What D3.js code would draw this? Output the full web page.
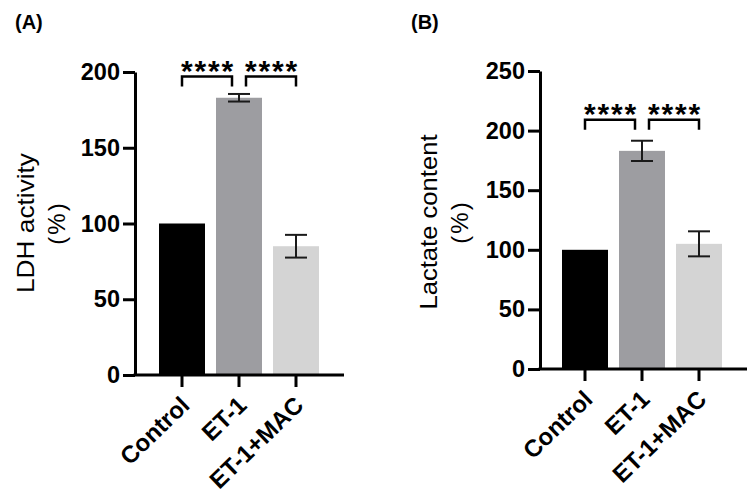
<!DOCTYPE html>
<html><head><meta charset="utf-8">
<script src="https://cdn.jsdelivr.net/npm/d3@7"></script>
<style>
html,body{margin:0;padding:0;background:#fff;}
svg{display:block;}
text{font-family:"Liberation Sans",Arial,sans-serif;}
</style></head>
<body>
<svg id="chart" width="756" height="499"></svg>
<script>
// ---- data ----
const categories = ["Control", "ET-1", "ET-1+MAC"];
const ldhMean = [100, 183, 85];
const ldhErr = [0, 2.5, 7.5];
const lactMean = [100, 183, 105];
const lactErr = [0, 8.5, 10.5];
const ldhTicks = [0, 50, 100, 150, 200];
const lactTicks = [0, 50, 100, 150, 200, 250];
const barColors = ["#000000", "#9d9da1", "#d4d4d4"];
const sigLabel = "****";
const ldhBracketValue = 197;
const lactBracketValue = 209;

const svg = d3.select("#chart");

function panel(cfg) {
  const g = svg.append("g");
  const y = d3.scaleLinear().domain([0, cfg.max]).range([cfg.y0, cfg.yTop]);
  const x = d3.scaleBand().domain(categories)
    .range([cfg.bandStart, cfg.bandStart + 171])
    .paddingInner(11 / 57).paddingOuter(11 / 114);

  // bars
  g.selectAll("rect.bar").data(cfg.mean).join("rect")
    .attr("x", (d, i) => x(categories[i]))
    .attr("width", x.bandwidth())
    .attr("y", d => y(d))
    .attr("height", d => y(0) - y(d))
    .attr("fill", (d, i) => barColors[i]);

  // error bars
  const eg = g.append("g").attr("stroke", "#1a1a1a").attr("stroke-width", 2);
  cfg.mean.forEach((m, i) => {
    const e = cfg.err[i];
    if (!e) return;
    const cx = x(categories[i]) + x.bandwidth() / 2;
    eg.append("line").attr("x1", cx).attr("x2", cx).attr("y1", y(m + e)).attr("y2", y(m - e));
    eg.append("line").attr("x1", cx - 11).attr("x2", cx + 11).attr("y1", y(m + e)).attr("y2", y(m + e));
    eg.append("line").attr("x1", cx - 11).attr("x2", cx + 11).attr("y1", y(m - e)).attr("y2", y(m - e));
  });

  // y axis
  const ya = g.append("g").attr("transform", `translate(${cfg.x0},0)`)
    .call(d3.axisLeft(y).tickValues(cfg.ticks).tickSize(12).tickSizeOuter(0));
  ya.select(".domain").attr("stroke-width", 3);
  ya.selectAll(".tick line").attr("stroke-width", 3);
  ya.selectAll(".tick text").attr("font-size", 23.5).attr("font-weight", "bold")
    .attr("font-family", "Liberation Sans, Arial, sans-serif").attr("x", -15).attr("fill", "#000");

  // x axis
  const xa = g.append("g").attr("transform", `translate(0,${cfg.y0})`)
    .call(d3.axisBottom(x).tickSize(12).tickSizeOuter(0));
  xa.select(".domain").remove();
  xa.append("line").attr("x1", cfg.x0 - 1.5).attr("x2", cfg.x1).attr("y1", 0).attr("y2", 0)
    .attr("stroke", "#000").attr("stroke-width", 3);
  xa.selectAll(".tick line").attr("stroke-width", 3);
  xa.selectAll(".tick text")
    .attr("font-size", 24).attr("font-weight", "bold")
    .attr("font-family", "Liberation Sans, Arial, sans-serif").attr("fill", "#000")
    .attr("text-anchor", "end").attr("dy", null).attr("y", null)
    .attr("transform", "translate(9,32) rotate(-44)");

  // significance brackets
  const bx = i => x(categories[i]) + x.bandwidth() / 2;
  const by = y(cfg.bracket);
  const pairs = [[bx(0), bx(1) - 7], [bx(1) + 7, bx(2)]];
  pairs.forEach(p => {
    g.append("path")
      .attr("d", `M${p[0]},${by + 10}V${by}H${p[1]}V${by + 10}`)
      .attr("fill", "none").attr("stroke", "#000").attr("stroke-width", 2.5);
    g.append("text").attr("x", (p[0] + p[1]) / 2 + 1).attr("y", by + 4)
      .attr("text-anchor", "middle").attr("font-size", 30).attr("font-weight", "bold")
      .attr("letter-spacing", 1.8).text(sigLabel);
  });

  // y label
  const lab = g.append("g").attr("transform", `translate(${cfg.labX},${cfg.labY}) rotate(-90)`);
  lab.append("text").attr("text-anchor", "middle").attr("y", 0).attr("font-size", 24)
    .attr("textLength", cfg.labLen).attr("lengthAdjust", "spacingAndGlyphs").text(cfg.label);
  lab.append("text").attr("text-anchor", "middle").attr("y", 31).attr("font-size", 24)
    .attr("letter-spacing", 2).text("(%)");

  // panel title
  g.append("text").attr("x", cfg.titleX).attr("y", 29).attr("font-size", 20)
    .attr("font-weight", "bold").text(cfg.title);
}

panel({ mean: ldhMean, err: ldhErr, ticks: ldhTicks, max: 200, x0: 135, x1: 344, y0: 375, yTop: 72,
  bandStart: 153.5, bracket: ldhBracketValue, label: "LDH activity", labX: 34, labY: 223, labLen: 140,
  title: "(A)", titleX: 15 });
panel({ mean: lactMean, err: lactErr, ticks: lactTicks, max: 250, x0: 540, x1: 747, y0: 369, yTop: 71,
  bandStart: 556.5, bracket: lactBracketValue, label: "Lactate content", labX: 437, labY: 222, labLen: 175,
  title: "(B)", titleX: 411 });
</script>
</body></html>
